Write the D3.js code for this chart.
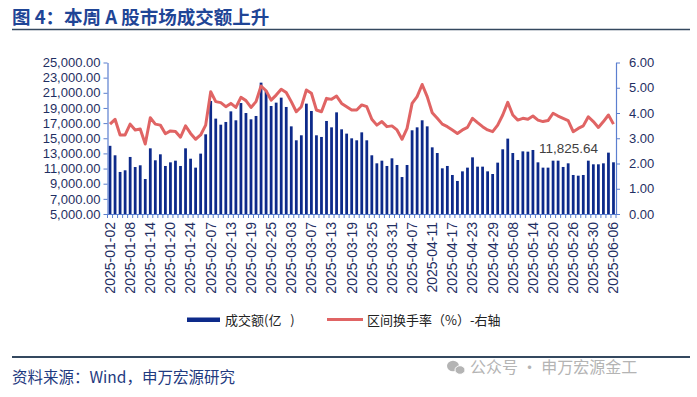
<!DOCTYPE html>
<html><head><meta charset="utf-8">
<script src="https://cdn.jsdelivr.net/npm/d3@7"></script>
<style>body{margin:0;background:#fff}</style>
</head><body><svg id="c" width="697" height="397"></svg>
<script>
const dates=["2025-01-02","2025-01-03","2025-01-06","2025-01-07","2025-01-08","2025-01-09","2025-01-10","2025-01-13","2025-01-14","2025-01-15","2025-01-16","2025-01-17","2025-01-20","2025-01-21","2025-01-22","2025-01-23","2025-01-24","2025-01-27",
"2025-02-05","2025-02-06","2025-02-07","2025-02-10","2025-02-11","2025-02-12","2025-02-13","2025-02-14","2025-02-17","2025-02-18","2025-02-19","2025-02-20","2025-02-21","2025-02-24","2025-02-25","2025-02-26","2025-02-27","2025-02-28",
"2025-03-03","2025-03-04","2025-03-05","2025-03-06","2025-03-07","2025-03-10","2025-03-11","2025-03-12","2025-03-13","2025-03-14","2025-03-17","2025-03-18","2025-03-19","2025-03-20","2025-03-21","2025-03-24","2025-03-25","2025-03-26","2025-03-27","2025-03-28","2025-03-31",
"2025-04-01","2025-04-02","2025-04-03","2025-04-07","2025-04-08","2025-04-09","2025-04-10","2025-04-11","2025-04-14","2025-04-15","2025-04-16","2025-04-17","2025-04-18","2025-04-21","2025-04-22","2025-04-23","2025-04-24","2025-04-25","2025-04-28","2025-04-29","2025-04-30",
"2025-05-06","2025-05-07","2025-05-08","2025-05-09","2025-05-12","2025-05-13","2025-05-14","2025-05-15","2025-05-16","2025-05-19","2025-05-20","2025-05-21","2025-05-22","2025-05-23","2025-05-26","2025-05-27","2025-05-28","2025-05-29","2025-05-30",
"2025-06-03","2025-06-04","2025-06-05","2025-06-06"];
const turnover=[14000,12750,10550,10770,12530,11200,11430,9620,13670,12090,12880,11340,11820,12040,11340,13670,12300,11120,
12970,15520,19920,17590,16790,17150,18550,17370,19650,18330,17500,17940,22340,21240,19260,19700,20360,19130,
16570,14730,15390,19570,18600,15390,15170,17280,16440,18420,16180,15610,14990,14730,15780,14730,12750,11690,12040,11340,12350,
11470,9880,11470,16050,16440,17370,16570,13800,13050,11030,11340,10150,9360,10630,11120,12480,11250,11250,10630,10280,11780,
13540,14950,13050,12130,13270,13230,13450,11820,11120,11120,12040,12040,11210,11690,10150,10060,10150,12040,11560,
11560,11690,13100,11825.64];
const turnoverRate=[3.56,3.75,3.13,3.13,3.56,3.33,3.37,2.77,3.81,3.56,3.52,3.18,3.29,3.27,3.04,3.49,3.19,2.96,
3.13,3.52,4.84,4.45,4.41,4.25,4.38,4.22,4.62,4.49,4.22,4.45,5.07,4.88,4.51,4.71,4.94,4.81,
4.45,4.05,4.25,4.91,4.78,4.12,4.05,4.58,4.54,4.67,4.38,4.25,4.12,4.12,4.32,4.25,3.75,3.52,3.66,3.46,3.49,
3.33,2.96,3.39,4.38,4.65,5.13,4.65,4.01,3.79,3.56,3.46,3.33,3.19,3.33,3.43,3.79,3.62,3.46,3.33,3.26,3.52,
3.92,4.42,3.92,3.72,3.79,3.75,3.88,3.72,3.66,3.70,3.99,3.88,3.79,3.70,3.26,3.39,3.49,3.85,3.66,
3.43,3.66,3.92,3.56];
const leftTicks=[5000,7000,9000,11000,13000,15000,17000,19000,21000,23000,25000];
const rightTicks=[0,1,2,3,4,5,6];
const xTickDates=dates.filter((d,i)=>i%4===0);
const lastLabel="11,825.64";

const svg=d3.select("#c");
svg.append("rect").attr("width",697).attr("height",397).attr("fill","#fff");
const L=107.5,R=616,T=62.5,B=214;
const axisColor="#5b7fcf", labelColor="#1f2f63", barColor="#0d2a8a", lineColor="#e06464";
const x=d3.scaleBand().domain(dates).range([L,R]).paddingInner(0.45).paddingOuter(0.225);
const yL=d3.scaleLinear().domain([5000,25000]).range([B,T]);
const yR=d3.scaleLinear().domain([0,6]).range([B,T]);
const bw=x.bandwidth();

// title
svg.append("text").attr("x",12).attr("y",23.5).text("图 4：本周 A 股市场成交额上升")
 .style("font-family","'Noto Sans CJK SC'").style("font-weight","bold").style("font-size","18.5px").attr("fill","#1f4596");
svg.append("line").attr("x1",12).attr("x2",690).attr("y1",29.5).attr("y2",29.5).attr("stroke","#34485f").attr("stroke-width",1.5);

// bars
svg.append("g").selectAll("rect").data(turnover).join("rect")
 .attr("x",(d,i)=>x(dates[i])).attr("width",bw)
 .attr("y",d=>yL(d)).attr("height",d=>B-yL(d)).attr("fill",barColor);

// line
svg.append("path").datum(turnoverRate)
 .attr("d",d3.line().x((d,i)=>x(dates[i])+bw/2).y(d=>yR(d)))
 .attr("fill","none").attr("stroke",lineColor).attr("stroke-width",3).attr("stroke-linejoin","round");

// left axis
const gl=svg.append("g").attr("transform",`translate(${L},0)`)
 .call(d3.axisLeft(yL).tickValues(leftTicks).tickFormat(d3.format(",.2f")).tickSize(4).tickSizeOuter(0).tickPadding(3));
// right axis
const gr=svg.append("g").attr("transform",`translate(${R},0)`)
 .call(d3.axisRight(yR).tickValues(rightTicks).tickFormat(d3.format(".2f")).tickSize(4).tickSizeOuter(0).tickPadding(9));
// x axis
const gx=svg.append("g").attr("transform",`translate(0,${B})`)
 .call(d3.axisBottom(x).tickValues(xTickDates).tickSize(0).tickSizeOuter(0));
gx.selectAll("text").attr("transform","rotate(-90)").attr("x",-8).attr("y",0).attr("dy","0.35em").style("text-anchor","end");
// category boundary ticks
const step=x.step();
gx.append("g").selectAll("line").data(dates.concat(["__end"])).join("line")
 .attr("x1",(d,i)=>i<dates.length? x(d)-(step-bw)/2 : x(dates[dates.length-1])+bw+(step-bw)/2)
 .attr("x2",(d,i)=>i<dates.length? x(d)-(step-bw)/2 : x(dates[dates.length-1])+bw+(step-bw)/2)
 .attr("y1",0).attr("y2",4).attr("stroke",axisColor).attr("stroke-width",1);

[gl,gr,gx].forEach(g=>{
 g.selectAll(".domain").attr("stroke",axisColor).attr("stroke-width",1.2);
 g.selectAll(".tick line").attr("stroke",axisColor);
 g.selectAll("text").attr("fill",labelColor).style("font-family","'Liberation Sans',Arial,sans-serif").style("font-size","13px");
});
gx.selectAll("text").style("font-size","14px");

// annotation
const li=dates.length-1;
svg.append("text").attr("x",x(dates[li])+bw/2-45).attr("y",yL(turnover[li])-9).attr("text-anchor","middle")
 .text(lastLabel).attr("fill","#404040").style("font-family","'Liberation Sans',Arial,sans-serif").style("font-size","13.5px");

// legend
const lg=svg.append("g");
lg.append("rect").attr("x",187).attr("y",317.5).attr("width",33).attr("height",4.5).attr("fill",barColor);
lg.append("text").attr("x",225).attr("y",325).text("成交额(亿\u00a0\u00a0\u00a0)").attr("fill","#222")
 .style("font-family","'Noto Sans CJK SC'").style("font-size","13px");
lg.append("line").attr("x1",327).attr("x2",363).attr("y1",319.5).attr("y2",319.5).attr("stroke",lineColor).attr("stroke-width",3);
lg.append("text").attr("x",367).attr("y",325).text("区间换手率（%）-右轴").attr("fill","#222")
 .style("font-family","'Noto Sans CJK SC'").style("font-size","13px");

// footer
svg.append("line").attr("x1",12).attr("x2",690).attr("y1",357).attr("y2",357).attr("stroke","#34485f").attr("stroke-width",2);
svg.append("text").attr("x",12).attr("y",383).text("资料来源：Wind，申万宏源研究").attr("fill","#1f3a80")
 .style("font-family","'Noto Sans CJK SC'").style("font-size","15.5px");
// watermark
const wm=svg.append("g").attr("fill","#b4b4b4");
wm.append("ellipse").attr("cx",453).attr("cy",366).attr("rx",6).attr("ry",5.2);
wm.append("ellipse").attr("cx",460).attr("cy",370).attr("rx",5).attr("ry",4.3).attr("stroke","#fff").attr("stroke-width",1);
wm.append("text").attr("x",470).attr("y",373).text("公众号 · 申万宏源金工")
 .style("font-family","'Noto Sans CJK SC'").style("font-size","16px");
</script></body></html>
